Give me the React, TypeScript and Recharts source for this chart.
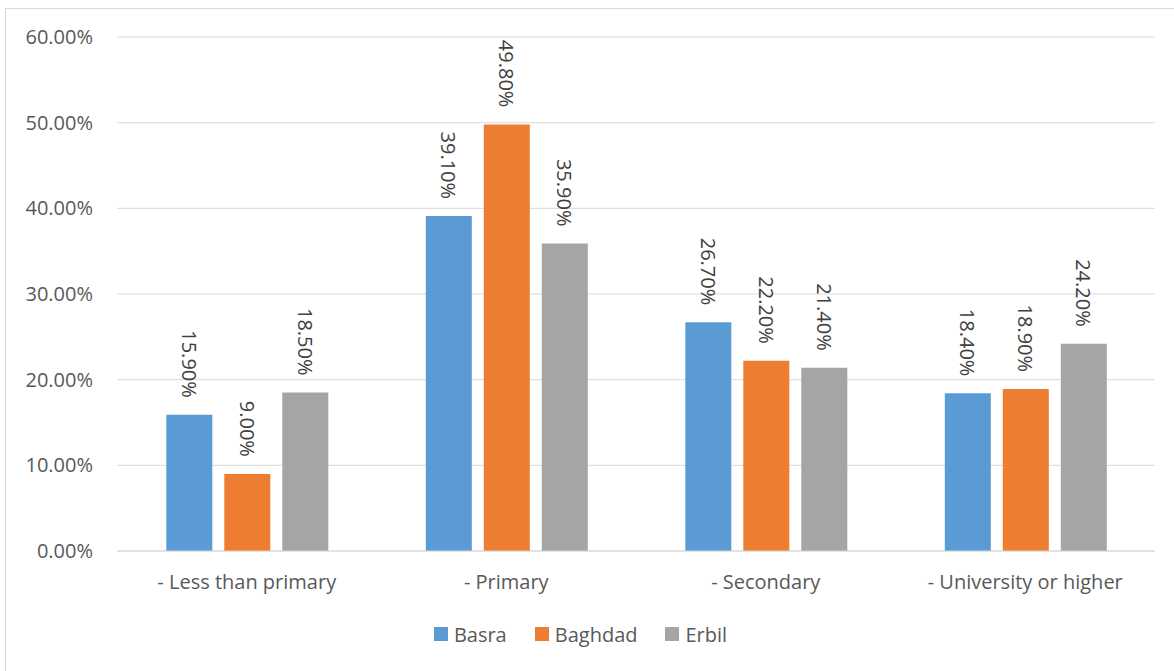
import { BarChart, Bar, XAxis, YAxis, CartesianGrid, Legend, LabelList } from 'recharts';

const categories = ['- Less than primary', '- Primary', '- Secondary', '- University or higher'];
const basra = [15.9, 39.1, 26.7, 18.4];
const baghdad = [9.0, 49.8, 22.2, 18.9];
const erbil = [18.5, 35.9, 21.4, 24.2];
const yTicks = [0, 10, 20, 30, 40, 50, 60];

const seriesList = [
  { key: 'Basra', color: '#5B9BD5' },
  { key: 'Baghdad', color: '#ED7D31' },
  { key: 'Erbil', color: '#A5A5A5' },
];

const data = categories.map((c, i) => ({
  name: c,
  Basra: basra[i],
  Baghdad: baghdad[i],
  Erbil: erbil[i],
}));

const FONT = '"Open Sans", sans-serif';

const pct = (v: number) => `${Number(v).toFixed(2)}%`;

// rotated value label sitting above the bar, reading top to bottom
const RotLabel = (props: any) => {
  const { x, y, width, value } = props;
  const cx = Number(x) + Number(width) / 2;
  const ty = Number(y) - 17;
  return (
    <text
      x={cx} y={ty}
      transform={`rotate(90, ${cx}, ${ty})`}
      textAnchor="end" dominantBaseline="central"
      fill="#404040" fontSize={20} fontFamily={FONT}
    >
      {pct(value)}
    </text>
  );
};

const LegendBox = () => (
  <div style={{ display: 'flex', justifyContent: 'center', alignItems: 'center', height: 30,
    fontFamily: FONT, fontSize: 20, color: '#595959' }}>
    {seriesList.map((s, i) => (
      <div key={s.key} style={{ display: 'flex', alignItems: 'center', marginLeft: i ? 28 : 0 }}>
        <span style={{ width: 14, height: 14, background: s.color, display: 'inline-block', marginRight: 6 }} />
        <span>{s.key}</span>
      </div>
    ))}
  </div>
);

export default function App() {
  return (
    <div style={{ position: 'fixed', left: 0, top: 0, width: 1174, height: 671, overflow: 'hidden', background: '#fff' }}>
      <div style={{ position: 'absolute', left: 5, top: 8, width: 1200, height: 700, border: '1px solid #D9D9D9' }}>
        <BarChart
          width={1168} height={662} data={data}
          margin={{ top: 28, right: 19, left: 0, bottom: 22 }}
          barCategoryGap="19%" barGap={12}
        >
          <CartesianGrid vertical={false} stroke="#D9D9D9" />
          <XAxis
            dataKey="name" height={68} tickLine={false} tickSize={0} tickMargin={24}
            axisLine={{ stroke: '#D9D9D9' }}
            tick={{ fill: '#595959', fontSize: 20, fontFamily: FONT }}
          />
          <YAxis
            width={111} domain={[0, 60]} ticks={yTicks} interval={0}
            axisLine={false} tickLine={false} tickSize={0} tickMargin={24}
            tickFormatter={pct}
            tick={{ fill: '#595959', fontSize: 20, fontFamily: FONT }}
          />
          <Legend verticalAlign="bottom" content={<LegendBox />} />
          {seriesList.map(s => (
            <Bar key={s.key} dataKey={s.key} fill={s.color} isAnimationActive={false}>
              <LabelList dataKey={s.key} content={<RotLabel />} />
            </Bar>
          ))}
        </BarChart>
      </div>
    </div>
  );
}
